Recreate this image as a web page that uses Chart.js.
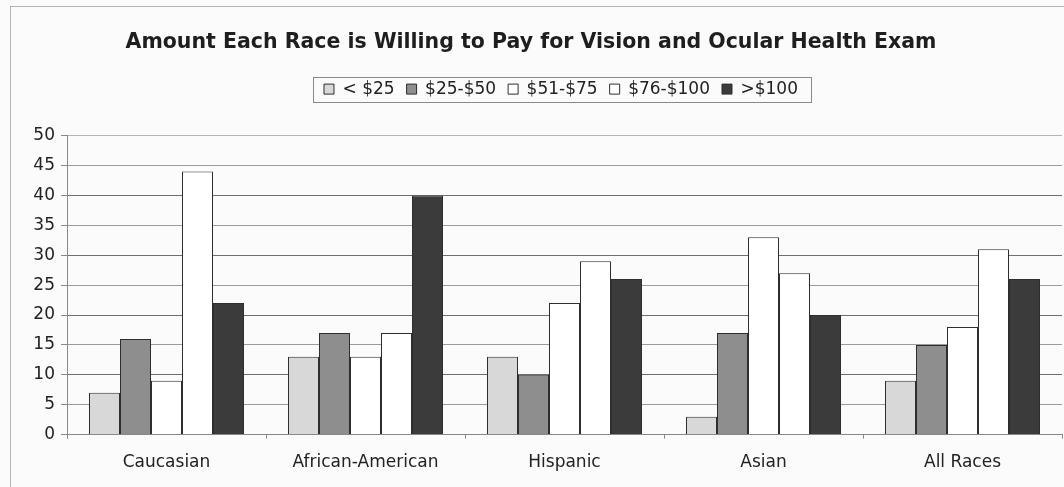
<!DOCTYPE html>
<html>
<head>
<meta charset="utf-8">
<title>Vision exam price by race</title>
<script src="https://cdn.jsdelivr.net/npm/chart.js@4.4.1/dist/chart.umd.min.js"></script>
<style>
    html, body { margin: 0; padding: 0; background: #fbfbfb; }
    #wrap { width: 1064px; height: 487px; }
</style>
</head>
<body>
<div id="wrap"><canvas id="priceChart"></canvas></div>
<script>
const races = ['Caucasian', 'African-American', 'Hispanic', 'Asian', 'All Races'];

const under25 = [7, 13, 13, 3, 9];
const from25to50 = [16, 17, 10, 17, 15];
const from51to75 = [9, 13, 22, 33, 18];
const from76to100 = [44, 17, 29, 27, 31];
const over100 = [22, 40, 26, 20, 26];

const yTicks = [0, 5, 10, 15, 20, 25, 30, 35, 40, 45, 50];

const FONT = "'DejaVu Sans', sans-serif";

// frame round the whole chart and round the legend
const framePlugin = {
    id: 'frames',
    beforeDraw: (chart) => {
        const ctx = chart.ctx;
        ctx.save();
        ctx.strokeStyle = '#b5b5b5';
        ctx.lineWidth = 1;
        ctx.strokeRect(10.5, 6.5, 1200, 600);
        ctx.restore();
    },
    afterDraw: (chart) => {
        const boxes = chart.legend.legendHitBoxes;
        if (!boxes || !boxes.length) return;
        const first = boxes[0];
        const last = boxes[boxes.length - 1];
        const ctx = chart.ctx;
        ctx.save();
        ctx.strokeStyle = '#8a8a8a';
        ctx.lineWidth = 1;
        const x = Math.round(first.left - 11) + 0.5;
        const y = Math.round(first.top - 4) + 0.5;
        const w = Math.round(last.left + last.width - first.left + 24);
        const h = Math.round(first.height + 8);
        ctx.strokeRect(x, y, w, h);
        ctx.restore();
    }
};

// extra space under the legend, and legend pushed a little to the right
const legendPlace = {
    id: 'legendPlace',
    beforeInit: (chart) => {
        const fit = chart.legend.fit;
        chart.legend.fit = function () {
            fit.bind(chart.legend)();
            this.height += 28;
        };
    },
    afterLayout: (chart) => {
        chart.legend.left += 30;
        chart.legend.right += 30;
    }
};

const gridColor = (c) => {
    const v = c.tick && c.tick.value;
    if (v === 50) return '#b4b4b4';
    return v % 10 === 0 ? '#6f6f6f' : '#9c9c9c';
};

const ctx = document.getElementById('priceChart').getContext('2d');

new Chart(ctx, {
    type: 'bar',
    data: {
        labels: races,
        datasets: [
            { label: '< $25', data: under25, backgroundColor: '#d8d8d8' },
            { label: '$25-$50', data: from25to50, backgroundColor: '#8e8e8e' },
            { label: '$51-$75', data: from51to75, backgroundColor: '#ffffff' },
            { label: '$76-$100', data: from76to100, backgroundColor: '#ffffff' },
            { label: '>$100', data: over100, backgroundColor: '#3b3b3b' }
        ].map(ds => Object.assign(ds, {
            borderColor: '#2e2e2e',
            borderWidth: 1,
            inflateAmount: 0,
            categoryPercentage: 155 / 199,
            barPercentage: 1.0
        }))
    },
    options: {
        responsive: true,
        maintainAspectRatio: false,
        animation: false,
        layout: {
            padding: { top: 6, left: 0, right: 2, bottom: 0 }
        },
        plugins: {
            title: {
                display: true,
                text: 'Amount Each Race is Willing to Pay for Vision and Ocular Health Exam',
                color: '#1e1e1e',
                font: { family: FONT, size: 20.5, weight: 'bold' },
                padding: { top: 24, bottom: 14 }
            },
            legend: {
                display: true,
                position: 'top',
                labels: {
                    color: '#222',
                    font: { family: FONT, size: 17 },
                    boxWidth: 10,
                    boxHeight: 10,
                    padding: 12
                }
            },
            tooltip: { enabled: false }
        },
        scales: {
            x: {
                offset: true,
                grid: {
                    display: true,
                    offset: true,
                    drawOnChartArea: false,
                    drawTicks: true,
                    tickLength: 4,
                    color: '#888'
                },
                border: { display: true, color: '#888' },
                ticks: {
                    color: '#222',
                    font: { family: FONT, size: 17 },
                    padding: 14,
                    maxRotation: 0
                }
            },
            y: {
                min: 0,
                max: 50,
                afterFit: (scale) => { scale.width = 67; },
                afterBuildTicks: (scale) => {
                    scale.ticks = yTicks.map(v => ({ value: v }));
                },
                grid: {
                    color: gridColor,
                    drawTicks: true,
                    tickLength: 6,
                    tickColor: '#888'
                },
                border: { display: true, color: '#888' },
                ticks: {
                    color: '#222',
                    font: { family: FONT, size: 17 },
                    padding: 6
                }
            }
        }
    },
    plugins: [framePlugin, legendPlace]
});
</script>
</body>
</html>
